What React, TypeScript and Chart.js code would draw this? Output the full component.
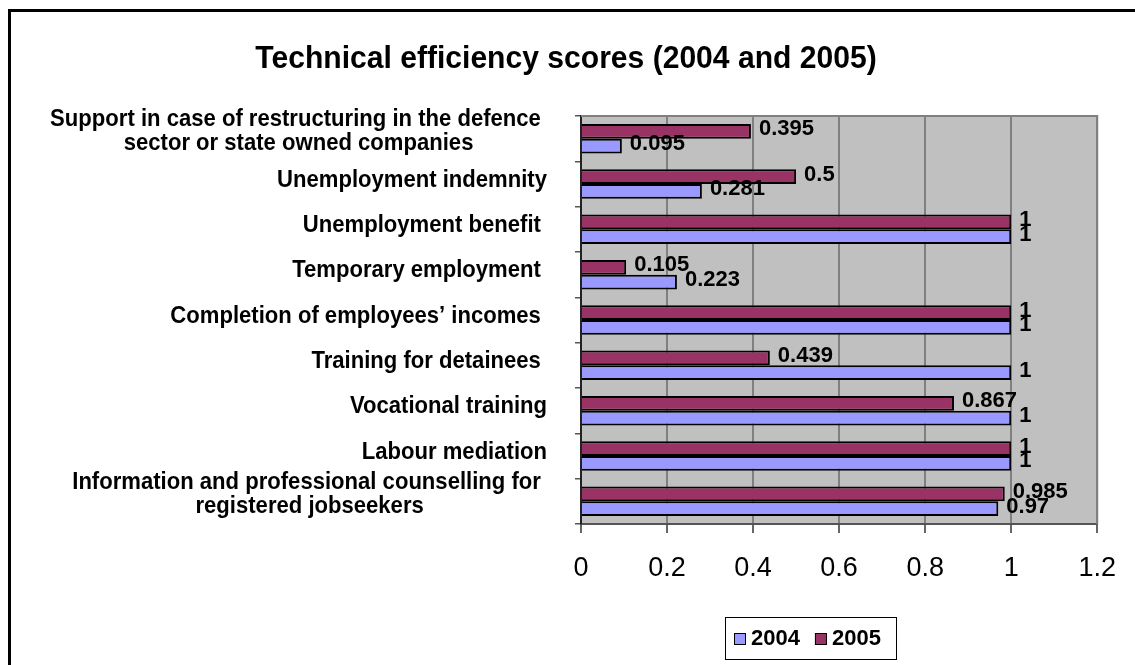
import React, { useEffect, useRef } from "react";
import { Chart, registerables } from "chart.js";

Chart.register(...registerables);

const FONT = "'Liberation Sans', Arial, sans-serif";

const TITLE = "Technical efficiency scores (2004 and 2005)";

// Categories listed bottom-to-top (Excel order); the y axis is reversed.
const CATEGORIES: (string | string[])[] = [
  ["Information and professional counselling for ", "registered jobseekers"],
  "Labour mediation",
  "Vocational training",
  "Training for detainees ",
  "Completion of employees\u2019 incomes ",
  "Temporary employment ",
  "Unemployment benefit ",
  "Unemployment indemnity",
  ["Support in case of restructuring in the defence ", "sector or state owned companies"],
];

const SERIES_NAMES = ["2004", "2005"];
const VALUES_2004 = [0.97, 1, 1, 1, 1, 0.223, 1, 0.281, 0.095];
const VALUES_2005 = [0.985, 1, 0.867, 0.439, 1, 0.105, 1, 0.5, 0.395];
const SERIES_COLORS = ["#9999FF", "#993366"];

const X_TICKS = [0, 0.2, 0.4, 0.6, 0.8, 1, 1.2];

// draw text horizontally condensed (like the original rendering)
function condensedText(ctx: any, text: string, x: number, y: number, align: string, sx: number) {
  const w = ctx.measureText(text).width * sx;
  let left = x;
  if (align === "right") left = x - w;
  else if (align === "center") left = x - w / 2;
  ctx.save();
  ctx.translate(left, y);
  ctx.scale(sx, 1);
  ctx.textAlign = "left";
  ctx.fillText(text, 0, 0);
  ctx.restore();
  return w;
}

const decorPlugin = {
  id: "decor",
  beforeDraw(chart: any) {
    const { ctx, chartArea: a } = chart;
    ctx.save();
    ctx.fillStyle = "#ffffff";
    ctx.fillRect(0, 0, chart.width, chart.height);
    // outer frame (left and top visible)
    ctx.fillStyle = "#000000";
    ctx.fillRect(8, 9, 3, chart.height);
    ctx.fillRect(8, 9, chart.width, 3);
    // plot area background
    ctx.fillStyle = "#C0C0C0";
    ctx.fillRect(a.left, a.top, a.right - a.left, a.bottom - a.top);
    // title
    ctx.fillStyle = "#000000";
    ctx.font = `bold 32px ${FONT}`;
    ctx.textBaseline = "alphabetic";
    condensedText(ctx, TITLE, 566, 68, "center", 0.94);
    ctx.restore();
  },
  beforeDatasetsDraw(chart: any) {
    const { ctx, chartArea: a } = chart;
    ctx.save();
    ctx.strokeStyle = "#808080";
    ctx.lineWidth = 2;
    ctx.beginPath();
    ctx.moveTo(a.left, a.top);
    ctx.lineTo(a.right, a.top);
    ctx.lineTo(a.right, a.bottom);
    ctx.stroke();
    ctx.restore();
  },
  afterDatasetsDraw(chart: any) {
    const { ctx } = chart;
    ctx.save();
    ctx.fillStyle = "#000000";
    ctx.font = `bold 22px ${FONT}`;
    ctx.textAlign = "left";
    ctx.textBaseline = "middle";
    chart.data.datasets.forEach((ds: any, di: number) => {
      const meta = chart.getDatasetMeta(di);
      meta.data.forEach((bar: any, i: number) => {
        const v = ds.data[i];
        ctx.fillText(String(v), bar.x + 8, bar.y - 2);
      });
    });
    ctx.restore();
  },
  afterDraw(chart: any) {
    const { ctx } = chart;
    const yScale = chart.scales.y;
    const sx = 0.92;
    ctx.save();
    ctx.fillStyle = "#000000";
    ctx.font = `bold 24px ${FONT}`;
    ctx.textBaseline = "middle";
    const rightEdge = 547;
    CATEGORIES.forEach((label, i) => {
      const cy = yScale.getPixelForValue(i);
      if (Array.isArray(label)) {
        const w = Math.max(...label.map((l) => ctx.measureText(l).width)) * sx;
        const cx = rightEdge - w / 2;
        const lh = 24;
        const top = cy - 7 - ((label.length - 1) * lh) / 2;
        label.forEach((l, k) => {
          condensedText(ctx, l, cx, top + k * lh, "center", sx);
        });
      } else {
        condensedText(ctx, label, rightEdge, cy - 4, "right", sx);
      }
    });

    // legend (in series order 2004, 2005)
    const boxL = 725, boxT = 617, boxW = 171, boxH = 42;
    ctx.font = `bold 22px ${FONT}`;
    ctx.strokeStyle = "#000000";
    ctx.lineWidth = 1;
    ctx.strokeRect(boxL + 0.5, boxT + 0.5, boxW, boxH);
    let x = boxL + 9;
    const cy = boxT + boxH / 2 + 1;
    ctx.textAlign = "left";
    SERIES_NAMES.forEach((name) => {
      const ds = chart.data.datasets.find((d: any) => d.label === name);
      ctx.fillStyle = ds.backgroundColor;
      ctx.fillRect(x, cy - 6, 12, 12);
      ctx.strokeStyle = "#000000";
      ctx.strokeRect(x + 0.5, cy - 5.5, 11, 11);
      x += 17;
      ctx.fillStyle = "#000000";
      ctx.fillText(name, x, cy);
      x += ctx.measureText(name).width + 15;
    });
    ctx.restore();
  },
};

export default function App() {
  const canvasRef = useRef<HTMLCanvasElement | null>(null);

  useEffect(() => {
    if (!canvasRef.current) return;
    const chart = new Chart(canvasRef.current, {
      type: "bar",
      data: {
        labels: CATEGORIES as any,
        datasets: [
          {
            label: SERIES_NAMES[1],
            data: VALUES_2005,
            backgroundColor: SERIES_COLORS[1],
            borderColor: "#000000",
            borderWidth: 2,
            categoryPercentage: 0.65,
            barPercentage: 1.0,
          },
          {
            label: SERIES_NAMES[0],
            data: VALUES_2004,
            backgroundColor: SERIES_COLORS[0],
            borderColor: "#000000",
            borderWidth: 2,
            categoryPercentage: 0.65,
            barPercentage: 1.0,
          },
        ],
      },
      options: {
        indexAxis: "y",
        responsive: false,
        animation: false,
        devicePixelRatio: 1,
        layout: { padding: { left: 0, top: 116, right: 35, bottom: 0 } },
        plugins: {
          legend: { display: false },
          title: { display: false },
          tooltip: { enabled: false },
        },
        scales: {
          x: {
            type: "linear",
            min: 0,
            max: 1.2,
            afterBuildTicks: (scale: any) => {
              scale.ticks = X_TICKS.map((v) => ({ value: v }));
            },
            afterFit: (scale: any) => {
              scale.height = 141;
            },
            ticks: {
              color: "#000000",
              font: { family: FONT, size: 27 },
              padding: 19,
              maxRotation: 0,
              autoSkip: false,
              callback: (v: any) => String(Math.round(Number(v) * 10) / 10),
            },
            grid: {
              color: "#808080",
              lineWidth: 2,
              drawTicks: true,
              tickLength: 9,
              tickColor: "#666666",
            },
            border: { display: true, color: "#555555", width: 2 },
          },
          y: {
            type: "category",
            reverse: true,
            afterFit: (scale: any) => {
              scale.width = 581;
            },
            ticks: { display: false },
            grid: {
              offset: true,
              drawOnChartArea: false,
              drawTicks: true,
              tickLength: 6,
              color: "#555555",
              lineWidth: 1.5,
            },
            border: { display: true, color: "#222222", width: 2 },
          },
        },
      },
      plugins: [decorPlugin],
    } as any);
    return () => chart.destroy();
  }, []);

  return (
    <div style={{ position: "absolute", left: 0, top: 0, width: 1135, height: 665 }}>
      <canvas ref={canvasRef} width={1135} height={665} style={{ display: "block", width: 1135, height: 665 }} />
    </div>
  );
}
